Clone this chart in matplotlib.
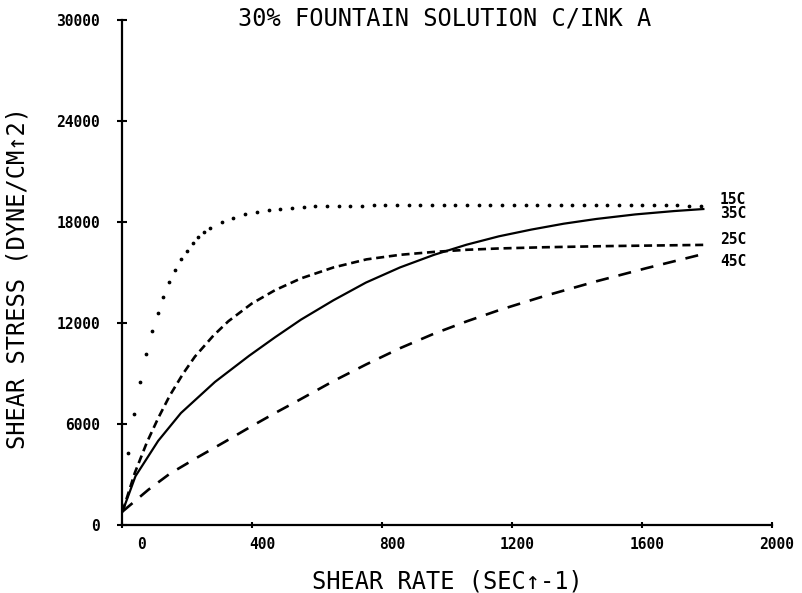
import matplotlib
matplotlib.use("Agg")
import matplotlib.pyplot as plt
from matplotlib.transforms import ScaledTranslation

plt.rcParams['lines.scale_dashes'] = False
MONO = ['DejaVu Sans Mono', 'DejaVu Sans']

# ---- donnees ----
x_ticks = [0, 400, 800, 1200, 1600, 2000]
y_ticks = [0, 6000, 12000, 18000, 24000, 30000]

# 15C : points pointilles
x_15 = [18, 36, 54, 72, 90, 108, 126, 144, 162, 180, 198, 216, 234, 252, 270,
        306, 342, 378, 414, 450, 486, 522, 558,
        594, 630, 666, 702, 738, 774, 810, 846, 882, 918,
        954, 990, 1026, 1062, 1098, 1134, 1170, 1206, 1242, 1278,
        1314, 1350, 1386, 1422, 1458, 1494, 1530, 1566, 1602, 1638,
        1674, 1710, 1746, 1782]
y_15 = [4260, 6600, 8480, 10150, 11550, 12620, 13570, 14420, 15150, 15780,
        16280, 16730, 17080, 17380, 17620,
        18020, 18260, 18480, 18620, 18730, 18790, 18860, 18910,
        18940, 18960, 18970, 18980, 18980, 18990, 18990, 19000, 19000, 19000,
        19000, 19000, 19000, 19000, 19000, 19000, 19000, 19000, 19000, 19000,
        19000, 19000, 19000, 19000, 19000, 19000, 19000, 19000, 18990, 18990,
        18990, 18990, 18980, 18980]

# 35C : trait plein
x_35 = [0, 40, 110, 180, 285, 390, 470, 550, 650, 750, 855, 960, 1060,
        1160, 1260, 1360, 1460, 1580, 1700, 1790]
y_35 = [800, 2900, 5000, 6650, 8500, 10050, 11150, 12200, 13350, 14400,
        15300, 16050, 16650, 17150, 17550, 17900, 18180, 18450, 18650, 18770]

# 25C : tirets courts
x_25 = [0, 38, 75, 110, 146, 187, 223, 280, 326, 398, 470, 550, 650, 752,
        855, 958, 1061, 1163, 1300, 1500, 1790]
y_25 = [800, 3100, 4900, 6350, 7700, 9000, 10000, 11250, 12100, 13150,
        13950, 14650, 15300, 15780, 16050, 16220, 16350, 16430, 16500,
        16570, 16640]

# 45C : tirets longs
x_45 = [0, 80, 146, 234, 316, 398, 470, 542, 650, 752, 855, 958, 1061,
        1163, 1300, 1461, 1615, 1759, 1790]
y_45 = [800, 2100, 3050, 4050, 4950, 5870, 6650, 7400, 8550, 9550, 10500,
        11350, 12100, 12780, 13600, 14480, 15260, 15950, 16100]

labels = ["15C", "35C", "25C", "45C"]
label_x = 1841
label_y = [19310, 18480, 16990, 15680]

# ---- figure ----
fig = plt.figure(figsize=(8.03, 5.93), dpi=100)
ax = fig.add_axes([122.5 / 803, 68 / 593, 649 / 803, 505 / 593])

ax.plot(x_15, y_15, linestyle='none', marker='o', markersize=1.7,
        color='black', clip_on=False)
ax.plot(x_35, y_35, color='black', linewidth=1.6, clip_on=False)
ax.plot(x_25, y_25, color='black', linewidth=1.9, dashes=(5.8, 3.4),
        clip_on=False)
ax.plot(x_45, y_45, color='black', linewidth=1.9, dashes=(9.4, 7.2),
        clip_on=False)

for lab, ly in zip(labels, label_y):
    ax.text(label_x, ly, lab, ha='left', va='center', fontsize=10.5,
            fontweight='bold', family=MONO, clip_on=False)

ax.set_xlim(0, 2000)
ax.set_ylim(0, 30000)
for s in ['top', 'right']:
    ax.spines[s].set_visible(False)
for s in ['left', 'bottom']:
    ax.spines[s].set_linewidth(1.6)

ax.tick_params(axis='y', direction='inout', length=7, width=1.5, pad=12.5)
ax.tick_params(axis='x', direction='inout', length=4.5, width=1.5, pad=6.5)

ax.set_xticks(x_ticks)
ax.set_xticklabels([str(v) for v in x_ticks], ha='right', fontsize=10.5,
                   fontweight='bold', family=MONO)
ax.set_yticks(y_ticks)
ax.set_yticklabels([str(v) for v in y_ticks], fontsize=10.5,
                   fontweight='bold', family=MONO)

decal = ScaledTranslation(23 / 100, 0, fig.dpi_scale_trans)
for t in ax.get_xticklabels():
    t.set_transform(t.get_transform() + decal)

fig.text(444.5 / 803, 1 - 18 / 593, "30% FOUNTAIN SOLUTION C/INK A",
         ha='center', va='center', fontsize=17, family=MONO)
fig.text(447 / 803, 1 - 581 / 593, "SHEAR RATE (SEC\u2191-1)",
         ha='center', va='center', fontsize=17, family=MONO)
fig.text(18 / 803, 1 - 278 / 593, "SHEAR STRESS (DYNE/CM\u21912)",
         ha='center', va='center', fontsize=17, family=MONO, rotation=90)

fig.savefig("out.png", dpi=100)
